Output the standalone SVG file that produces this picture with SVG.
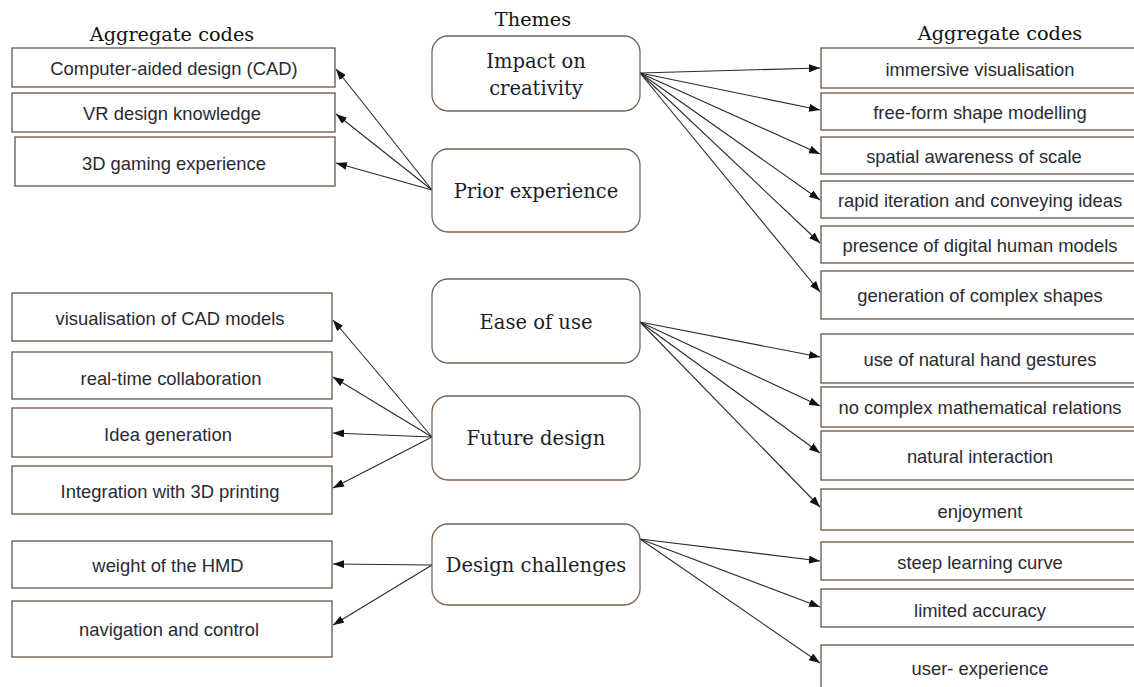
<svg xmlns="http://www.w3.org/2000/svg" width="1134" height="687" viewBox="0 0 1134 687">
<style>
.code{fill:#fff;stroke:#6b5444;stroke-width:1.3}
.theme{fill:#fff;stroke:#7a6352;stroke-width:1.3}
.ct{font-family:"Liberation Sans",Arial,sans-serif;font-size:18.4px;fill:#2a2a33;text-anchor:middle}
.tt{font-family:"DejaVu Serif","Liberation Serif",serif;font-size:19.5px;fill:#1c1c2c;text-anchor:middle}
.hd{font-family:"DejaVu Serif","Liberation Serif",serif;font-size:19.3px;fill:#111;text-anchor:middle}
.cn line{stroke:#2a2a2a;stroke-width:1.1;marker-end:url(#ah)}
</style>
<defs>
<marker id="ah" viewBox="0 0 11 8" refX="11" refY="4" markerWidth="11" markerHeight="8" markerUnits="userSpaceOnUse" orient="auto">
<path d="M0,0 L11,4 L0,8 Z" fill="#111"/>
</marker>
</defs>
<rect width="1134" height="687" fill="#fff"/>
<text class="hd" x="172" y="41">Aggregate codes</text>
<text class="hd" x="533" y="26">Themes</text>
<text class="hd" x="1000" y="40">Aggregate codes</text>

<g class="cn">
<line x1="432" y1="190" x2="336" y2="69"/>
<line x1="432" y1="190" x2="336" y2="114"/>
<line x1="432" y1="190" x2="336" y2="163"/>
<line x1="640" y1="73" x2="820" y2="68"/>
<line x1="640" y1="73" x2="820" y2="110"/>
<line x1="640" y1="73" x2="820" y2="154"/>
<line x1="640" y1="73" x2="820" y2="200"/>
<line x1="640" y1="73" x2="820" y2="243"/>
<line x1="640" y1="73" x2="820" y2="292"/>
<line x1="432" y1="437" x2="333" y2="320"/>
<line x1="432" y1="437" x2="333" y2="377"/>
<line x1="432" y1="437" x2="333" y2="433"/>
<line x1="432" y1="437" x2="333" y2="488"/>
<line x1="432" y1="565" x2="333" y2="564"/>
<line x1="432" y1="565" x2="333" y2="625"/>
<line x1="640" y1="322" x2="820" y2="357"/>
<line x1="640" y1="322" x2="820" y2="406"/>
<line x1="640" y1="322" x2="820" y2="453"/>
<line x1="640" y1="322" x2="820" y2="507"/>
<line x1="640" y1="539" x2="820" y2="561"/>
<line x1="640" y1="539" x2="820" y2="607"/>
<line x1="640" y1="539" x2="820" y2="663"/>
</g>

<g id="t-impact"><rect class="theme" x="432" y="36" width="208" height="75" rx="16"/><text class="tt" x="536" y="68">Impact on</text><text class="tt" x="536" y="95">creativity</text></g>
<g id="t-prior"><rect class="theme" x="432" y="149" width="208" height="83" rx="16"/><text class="tt" x="536" y="198">Prior experience</text></g>
<g id="t-ease"><rect class="theme" x="432" y="279" width="208" height="84" rx="16"/><text class="tt" x="536" y="329">Ease of use</text></g>
<g id="t-future"><rect class="theme" x="432" y="396" width="208" height="84" rx="16"/><text class="tt" x="536" y="445">Future design</text></g>
<g id="t-challenges"><rect class="theme" x="432" y="524" width="208" height="81" rx="16"/><text class="tt" x="536" y="572">Design challenges</text></g>

<g id="l-cad"><rect class="code" x="12" y="48" width="323" height="39"/><text class="ct" x="174" y="75">Computer-aided design (CAD)</text></g>
<g id="l-vr"><rect class="code" x="12" y="93" width="323" height="39"/><text class="ct" x="172" y="120">VR design knowledge</text></g>
<g id="l-gaming"><rect class="code" x="15" y="137" width="320" height="49"/><text class="ct" x="174" y="170">3D gaming experience</text></g>
<g id="l-vis"><rect class="code" x="12" y="293" width="320" height="48"/><text class="ct" x="170" y="325">visualisation of CAD models</text></g>
<g id="l-collab"><rect class="code" x="12" y="352" width="320" height="47"/><text class="ct" x="171" y="385">real-time collaboration</text></g>
<g id="l-idea"><rect class="code" x="12" y="408" width="320" height="49"/><text class="ct" x="168" y="441">Idea generation</text></g>
<g id="l-print"><rect class="code" x="12" y="466" width="320" height="48"/><text class="ct" x="170" y="498">Integration with 3D printing</text></g>
<g id="l-weight"><rect class="code" x="12" y="541" width="320" height="47"/><text class="ct" x="168" y="572">weight of the HMD</text></g>
<g id="l-nav"><rect class="code" x="12" y="601" width="320" height="56"/><text class="ct" x="169" y="636">navigation and control</text></g>

<g id="r-immersive"><rect class="code" x="821" y="48" width="320" height="40"/><text class="ct" x="980" y="76">immersive visualisation</text></g>
<g id="r-freeform"><rect class="code" x="821" y="93" width="320" height="37"/><text class="ct" x="980" y="119">free-form shape modelling</text></g>
<g id="r-spatial"><rect class="code" x="821" y="137" width="320" height="37"/><text class="ct" x="974" y="163">spatial awareness of scale</text></g>
<g id="r-rapid"><rect class="code" x="821" y="181" width="320" height="37"/><text class="ct" x="980" y="207">rapid iteration and conveying ideas</text></g>
<g id="r-presence"><rect class="code" x="821" y="226" width="320" height="37"/><text class="ct" x="980" y="252">presence of digital human models</text></g>
<g id="r-complex"><rect class="code" x="821" y="271" width="320" height="48"/><text class="ct" x="980" y="302">generation of complex shapes</text></g>
<g id="r-gestures"><rect class="code" x="821" y="334" width="320" height="49"/><text class="ct" x="980" y="366">use of natural hand gestures</text></g>
<g id="r-math"><rect class="code" x="821" y="387" width="320" height="40"/><text class="ct" x="980" y="414">no complex mathematical relations</text></g>
<g id="r-natural"><rect class="code" x="821" y="431" width="320" height="49"/><text class="ct" x="980" y="463">natural interaction</text></g>
<g id="r-enjoy"><rect class="code" x="821" y="489" width="320" height="41"/><text class="ct" x="980" y="518">enjoyment</text></g>
<g id="r-steep"><rect class="code" x="821" y="542" width="320" height="38"/><text class="ct" x="980" y="569">steep learning curve</text></g>
<g id="r-limited"><rect class="code" x="821" y="589" width="320" height="38"/><text class="ct" x="980" y="617">limited accuracy</text></g>
<g id="r-ux"><rect class="code" x="821" y="645" width="320" height="60"/><text class="ct" x="980" y="675">user- experience</text></g>
</svg>
